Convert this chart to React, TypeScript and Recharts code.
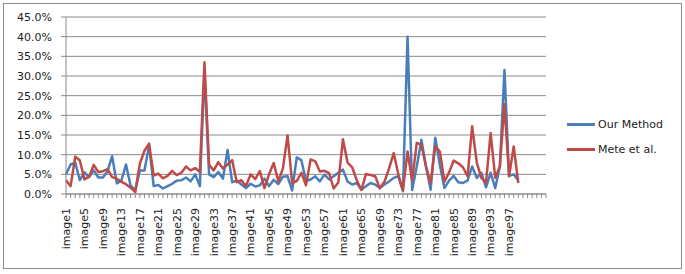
// Error rate per image: Our Method vs Mete et al. (Recharts line chart)
import { LineChart, Line, XAxis, YAxis, CartesianGrid } from 'recharts';

// 99 images, plus empty slots at the end of the category axis
const imageNames: string[] = [
  ...Array.from({ length: 99 }, (_, i) => `image${i + 1}`),
  '', '', '', '', '', '',
];

// error, in percent
const ourMethod = [
  5.0, 7.5, 8.0, 3.5, 5.5, 4.3, 6.0, 4.2, 4.2, 5.8,
  9.6, 2.7, 3.4, 7.5, 2.1, 0.9, 6.0, 6.0, 12.4, 2.0,
  2.3, 1.4, 2.0, 2.6, 3.4, 3.5, 4.2, 3.2, 5.0, 2.0,
  31.0, 5.0, 4.3, 5.6, 3.9, 11.2, 3.0, 3.4, 2.4, 1.5,
  2.6, 1.9, 2.2, 3.9, 2.0, 3.6, 2.5, 4.4, 4.5, 0.9,
  9.3, 8.6, 3.3, 3.7, 4.5, 3.2, 4.9, 3.7, 4.5, 5.4,
  6.2, 3.2, 2.4, 2.8, 1.1, 2.0, 2.8, 2.4, 1.5, 2.4,
  3.2, 4.1, 4.5, 0.7, 40.0, 1.0, 7.0, 13.8, 7.0, 1.1,
  14.3, 7.4, 1.5, 3.4, 4.6, 3.0, 2.8, 3.4, 7.0, 4.1,
  5.4, 1.7, 5.4, 1.5, 7.0, 31.5, 4.6, 5.0, 3.4,
];

const meteEtAl = [
  3.5, 2.0, 9.5, 8.5, 3.7, 4.4, 7.4, 5.6, 5.8, 6.3,
  4.3, 3.9, 3.1, 2.5, 1.6, 0.5, 7.7, 11.0, 12.8, 4.7,
  5.2, 4.0, 4.6, 5.9, 4.8, 5.4, 7.0, 6.0, 6.6, 5.6,
  33.5, 7.4, 6.0, 8.1, 6.5, 7.5, 8.6, 3.0, 3.5, 2.0,
  5.0, 3.8, 5.8, 1.5, 5.0, 7.9, 3.2, 6.5, 14.9, 2.8,
  3.3, 5.4, 2.2, 8.8, 8.3, 5.7, 5.9, 5.3, 1.4, 2.9,
  13.9, 8.0, 6.8, 3.5, 1.0, 5.1, 4.8, 4.5, 1.5, 3.1,
  6.5, 10.4, 5.0, 1.0, 10.8, 3.4, 13.0, 12.5, 7.0, 2.8,
  12.1, 10.8, 3.1, 5.5, 8.5, 7.8, 6.8, 4.5, 17.2, 8.0,
  4.1, 2.8, 15.5, 4.1, 7.0, 22.8, 4.5, 12.1, 2.8,
];

const yTicks = [0, 5, 10, 15, 20, 25, 30, 35, 40, 45];

const BLUE = '#4a7ebb';
const RED = '#be4b48';
const GRID = '#8a8a8a';
const FONT = '"DejaVu Sans", Verdana, sans-serif';

const legendItems = [
  { label: 'Our Method', color: BLUE },
  { label: 'Mete et al.', color: RED },
];

const data = imageNames.map((name, i) => ({
  name,
  ours: ourMethod[i] ?? null,
  mete: meteEtAl[i] ?? null,
}));

// label only every 4th category, rotated like Excel does it
function ImageTick(props: any) {
  const { x, y, payload, index } = props;
  if (index % 4 !== 0 || !payload?.value) return null;
  return (
    <g transform={`translate(${x},${y + 8}) rotate(-90)`}>
      <text x={0} y={0} dy="0.35em" textAnchor="end" fontSize={11} fontFamily={FONT} fill="#222">
        {payload.value}
      </text>
    </g>
  );
}

export default function App() {
  return (
    <div style={{ position: 'absolute', left: 0, top: 0, width: 685, height: 274, background: '#fff' }}>
      <div
        style={{
          position: 'absolute', left: 3, top: 3, width: 677, height: 264,
          border: '1px solid #8c8c8c',
        }}
      />
      <LineChart
        width={685}
        height={274}
        data={data}
        margin={{ top: 17, right: 139, left: 0, bottom: 20 }}
      >
        <CartesianGrid vertical={false} stroke={GRID} strokeWidth={1} />
        <XAxis
          dataKey="name"
          interval={0}
          height={60}
          tick={<ImageTick />}
          tickSize={4}
          tickLine={{ stroke: GRID }}
          axisLine={{ stroke: GRID }}
        />
        <YAxis
          domain={[0, 45]}
          ticks={yTicks}
          interval={0}
          width={66}
          tickSize={5}
          tickMargin={9}
          tickFormatter={(v) => `${v.toFixed(1)}%`}
          tick={{ fontSize: 11, fontFamily: FONT, fill: '#222' }}
          tickLine={{ stroke: GRID }}
          axisLine={{ stroke: GRID }}
        />
        <Line
          type="linear"
          dataKey="ours"
          stroke={BLUE}
          strokeWidth={2.5}
          strokeLinejoin="round"
          dot={false}
          isAnimationActive={false}
        />
        <Line
          type="linear"
          dataKey="mete"
          stroke={RED}
          strokeWidth={2.5}
          strokeLinejoin="round"
          dot={false}
          isAnimationActive={false}
        />
      </LineChart>
      {/* legend, right of the plot */}
      <div style={{ position: 'absolute', left: 567, top: 112, fontFamily: FONT, fontSize: 11, color: '#222' }}>
        {legendItems.map((it) => (
          <div key={it.label} style={{ display: 'flex', alignItems: 'center', height: 25 }}>
            <div style={{ width: 28, height: 3, background: it.color, marginRight: 3 }} />
            <span>{it.label}</span>
          </div>
        ))}
      </div>
    </div>
  );
}
